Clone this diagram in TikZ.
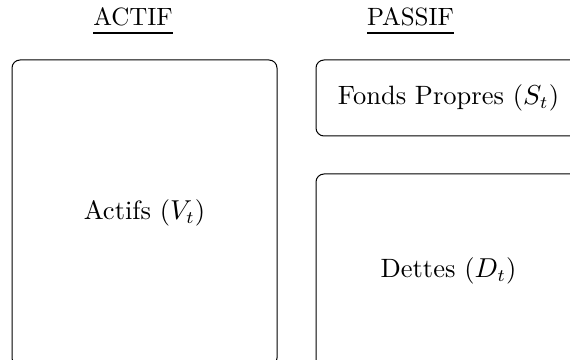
\documentclass[tikz,border=0pt]{standalone}
\usepackage{tikz}
\usetikzlibrary{positioning}
\newcommand{\souligne}[1]{\setbox0\hbox{#1}\rlap{\vrule width\wd0 height -2.4pt depth 3.2pt}\box0}
\tikzset{
  box/.style    = { rectangle, minimum width=106pt },
  border/.style = { draw=black },
  round/.style  = { rounded corners=3.2pt },
}
\tikzset{
  poste/.style  = { box, border, round, font=\fontsize{10.6pt}{13pt}\selectfont },
  titre/.style  = { anchor=base },
}

\begin{document}
\begin{tikzpicture}[node distance=15pt]
  \useasboundingbox (0,0) rectangle (228pt,-144pt);
  \node (actif)  [poste,minimum height=122.4pt] at (57.8pt,-85.2pt) {Actifs ($V_t$)};
  \node (fonds)  [poste,minimum height=30.4pt,right=15.2pt of actif.north east,anchor=north west] {Fonds Propres ($S_t$)};
  \node (dettes) [poste,minimum height=77.2pt,below=14.8pt of fonds.south west,anchor=north west] {Dettes ($D_t$)};

  \node (tactif)  [titre] at (53.2pt,-10.4pt)  {\souligne{ACTIF}};
  \node (tpassif) [titre] at (164.2pt,-10.4pt) {\souligne{PASSIF}};
\end{tikzpicture}
\end{document}
